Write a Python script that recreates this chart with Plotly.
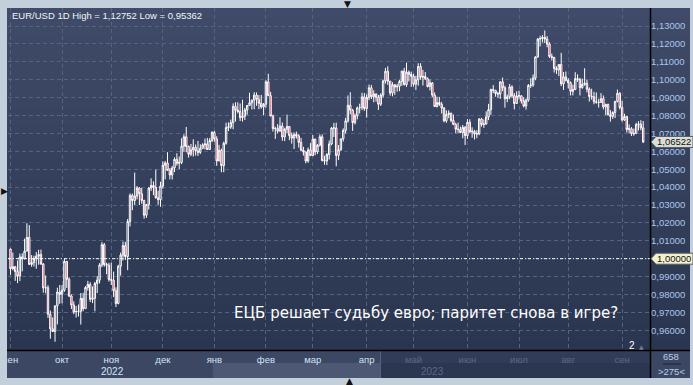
import plotly.graph_objects as go
import pandas as pd

# ---------------- data (EUR/USD daily) ----------------
dates = [d.strftime("%Y-%m-%d") for d in pd.bdate_range("2022-09-01", "2023-09-14")]

opens = [
    # Sep 2022
    1.0054, 0.9944, 0.9955, 0.9928, 0.9903, 1.0010, 0.9999, 1.0042, 1.0119, 0.9968, 0.9978,
    0.9999, 1.0014, 1.0023, 0.9970, 0.9837, 0.9838, 0.9690, 0.9608, 0.9593, 0.9737, 0.9814,
    # Oct
    0.9801, 0.9824, 0.9985, 0.9885, 0.9792, 0.9741, 0.9703, 0.9705, 0.9706, 0.9778, 0.9721,
    0.9839, 0.9856, 0.9773, 0.9779, 0.9862, 0.9880, 0.9965, 1.0078, 0.9967, 0.9964,
    # Nov
    0.9884, 0.9880, 0.9821, 0.9750, 0.9958, 1.0020, 1.0073, 1.0012, 1.0208, 1.0354, 1.0325,
    1.0350, 1.0395, 1.0363, 1.0325, 1.0243, 1.0303, 1.0395, 1.0409, 1.0398, 1.0340, 1.0330,
    # Dec
    1.0406, 1.0522, 1.0535, 1.0493, 1.0468, 1.0507, 1.0555, 1.0533, 1.0538, 1.0629, 1.0681,
    1.0627, 1.0584, 1.0608, 1.0622, 1.0602, 1.0594, 1.0617, 1.0636, 1.0641, 1.0610, 1.0660,
    # Jan 2023
    1.0705, 1.0669, 1.0546, 1.0606, 1.0520, 1.0645, 1.0733, 1.0736, 1.0760, 1.0851, 1.0830,
    1.0822, 1.0788, 1.0796, 1.0831, 1.0856, 1.0871, 1.0886, 1.0914, 1.0891, 1.0868, 1.0848,
    # Feb
    1.0863, 1.0988, 1.0911, 1.0797, 1.0727, 1.0728, 1.0713, 1.0741, 1.0680, 1.0723,
    1.0739, 1.0688, 1.0674, 1.0694, 1.0686, 1.0650, 1.0606, 1.0596, 1.0546, 1.0608,
    # Mar
    1.0576, 1.0668, 1.0597, 1.0634, 1.0681, 1.0548, 1.0546, 1.0582, 1.0641, 1.0730, 1.0730, 1.0577,
    1.0609, 1.0670, 1.0717, 1.0770, 1.0857, 1.0830, 1.0760, 1.0799, 1.0843, 1.0844, 1.0904,
    # Apr
    1.0839, 1.0901, 1.0955, 1.0905, 1.0920, 1.0902, 1.0863, 1.0914, 1.0993, 1.1047,
    1.0992, 1.0926, 1.0972, 1.0959, 1.0963, 1.0990, 1.1048, 1.0973, 1.1042, 1.1030,
    # May
    1.1019, 1.0975, 1.0999, 1.1074, 1.1014, 1.1018, 1.1006, 1.0962, 1.0982, 1.0914, 1.0850, 1.0872,
    1.0862, 1.0842, 1.0770, 1.0806, 1.0812, 1.0772, 1.0750, 1.0724, 1.0722, 1.0705, 1.0734,
    # Jun
    1.0688, 1.0762, 1.0709, 1.0712, 1.0696, 1.0698, 1.0780, 1.0750, 1.0752, 1.0792, 1.0833,
    1.0945, 1.0940, 1.0923, 1.0920, 1.0988, 1.0955, 1.0894, 1.0904, 1.0960, 1.0911, 1.0867,
    # Jul
    1.0909, 1.0910, 1.0881, 1.0853, 1.0886, 1.0968, 1.0970, 1.1009, 1.1127, 1.1227, 1.1230,
    1.1236, 1.1227, 1.1199, 1.1130, 1.1124, 1.1063, 1.1055, 1.1085, 1.0977, 1.1016,
    # Aug
    1.0996, 1.0983, 1.0935, 1.0945, 1.1006, 1.1002, 1.0956, 1.0974, 1.0980, 1.0947, 1.0906, 1.0905,
    1.0877, 1.0873, 1.0873, 1.0894, 1.0848, 1.0862, 1.0804, 1.0795, 1.0817, 1.0879, 1.0924,
    # Sep 2023
    1.0845, 1.0775, 1.0794, 1.0722, 1.0726, 1.0698, 1.0699, 1.0749, 1.0752, 1.0731,
]

highs = [
    1.0056, 1.0034, 0.9960, 0.9990, 1.0029, 1.0030, 1.0112, 1.0198, 1.0188, 1.0020, 1.0017,
    1.0037, 1.0050, 1.0051, 0.9976, 0.9906, 0.9852, 0.9710, 0.9672, 0.9737, 0.9838, 0.9853,
    0.9853, 0.9999, 0.9987, 0.9896, 0.9800, 0.9762, 0.9736, 0.9744, 0.9808, 0.9809, 0.9847,
    0.9876, 0.9869, 0.9845, 0.9871, 0.9903, 0.9975, 1.0093, 1.0088, 0.9978, 0.9977,
    0.9977, 0.9928, 0.9840, 0.9966, 1.0034, 1.0096, 1.0094, 1.0222, 1.0365, 1.0364, 1.0481,
    1.0406, 1.0399, 1.0395, 1.0330, 1.0305, 1.0399, 1.0449, 1.0432, 1.0498, 1.0380, 1.0430,
    1.0544, 1.0546, 1.0595, 1.0507, 1.0518, 1.0566, 1.0589, 1.0571, 1.0673, 1.0695, 1.0736,
    1.0632, 1.0641, 1.0667, 1.0638, 1.0658, 1.0639, 1.0645, 1.0671, 1.0675, 1.0674, 1.0713,
    1.0714, 1.0684, 1.0636, 1.0615, 1.0654, 1.0760, 1.0762, 1.0777, 1.0868, 1.0874, 1.0874,
    1.0867, 1.0888, 1.0843, 1.0859, 1.0927, 1.0888, 1.0930, 1.0929, 1.0914, 1.0915, 1.0870,
    1.0997, 1.1033, 1.0932, 1.0805, 1.0737, 1.0752, 1.0790, 1.0761, 1.0731, 1.0805,
    1.0740, 1.0705, 1.0706, 1.0710, 1.0695, 1.0675, 1.0625, 1.0599, 1.0621, 1.0646,
    1.0691, 1.0670, 1.0640, 1.0694, 1.0695, 1.0575, 1.0590, 1.0660, 1.0736, 1.0759, 1.0760, 1.0635,
    1.0670, 1.0728, 1.0787, 1.0912, 1.0930, 1.0837, 1.0811, 1.0850, 1.0866, 1.0927, 1.0925,
    1.0918, 1.0973, 1.0971, 1.0941, 1.0924, 1.0915, 1.0924, 1.1000, 1.1066, 1.1075,
    1.0993, 1.0986, 1.0975, 1.0977, 1.1000, 1.1050, 1.1066, 1.1095, 1.1051, 1.1045,
    1.1033, 1.1022, 1.1092, 1.1092, 1.1055, 1.1043, 1.1012, 1.1001, 1.0987, 1.0929, 1.0905, 1.0904,
    1.0876, 1.0847, 1.0829, 1.0829, 1.0817, 1.0805, 1.0760, 1.0760, 1.0738, 1.0747, 1.0741,
    1.0780, 1.0779, 1.0734, 1.0720, 1.0718, 1.0786, 1.0787, 1.0778, 1.0823, 1.0865, 1.0950,
    1.0970, 1.0944, 1.0933, 1.0990, 1.1012, 1.0966, 1.0917, 1.0976, 1.0969, 1.0925, 1.0935,
    1.0939, 1.0913, 1.0903, 1.0895, 1.0976, 1.1008, 1.1029, 1.1131, 1.1233, 1.1245, 1.1249,
    1.1275, 1.1244, 1.1209, 1.1146, 1.1128, 1.1075, 1.1085, 1.1150, 1.1043, 1.1046,
    1.1009, 1.0990, 1.0972, 1.1042, 1.1030, 1.1010, 1.1006, 1.1064, 1.1001, 1.0957, 1.0950, 1.0932,
    1.0929, 1.0893, 1.0925, 1.0912, 1.0866, 1.0866, 1.0830, 1.0824, 1.0882, 1.0945, 1.0930,
    1.0882, 1.0810, 1.0797, 1.0750, 1.0735, 1.0727, 1.0760, 1.0768, 1.0774, 1.0769,
]

lows = [
    0.9910, 0.9935, 0.9876, 0.9864, 0.9875, 0.9929, 0.9998, 1.0042, 0.9966, 0.9955, 0.9956,
    0.9944, 0.9966, 0.9966, 0.9810, 0.9807, 0.9669, 0.9553, 0.9592, 0.9536, 0.9633, 0.9748,
    0.9751, 0.9815, 0.9837, 0.9785, 0.9719, 0.9690, 0.9671, 0.9677, 0.9632, 0.9706, 0.9720,
    0.9822, 0.9758, 0.9752, 0.9706, 0.9808, 0.9862, 0.9953, 0.9955, 0.9913, 0.9872,
    0.9853, 0.9786, 0.9730, 0.9745, 0.9906, 0.9990, 0.9993, 0.9936, 1.0180, 1.0271, 1.0300,
    1.0331, 1.0300, 1.0307, 1.0223, 1.0228, 1.0275, 1.0378, 1.0355, 1.0336, 1.0301, 1.0290,
    1.0391, 1.0443, 1.0491, 1.0443, 1.0442, 1.0484, 1.0520, 1.0500, 1.0528, 1.0598, 1.0595,
    1.0565, 1.0573, 1.0571, 1.0576, 1.0574, 1.0585, 1.0612, 1.0610, 1.0608, 1.0608, 1.0651,
    1.0653, 1.0519, 1.0545, 1.0483, 1.0483, 1.0637, 1.0713, 1.0725, 1.0723, 1.0766, 1.0812,
    1.0769, 1.0766, 1.0775, 1.0804, 1.0855, 1.0834, 1.0835, 1.0854, 1.0835, 1.0838, 1.0802,
    1.0844, 1.0910, 1.0796, 1.0710, 1.0669, 1.0700, 1.0709, 1.0659, 1.0657, 1.0700,
    1.0662, 1.0643, 1.0613, 1.0671, 1.0621, 1.0600, 1.0576, 1.0533, 1.0536, 1.0574,
    1.0574, 1.0578, 1.0585, 1.0627, 1.0544, 1.0525, 1.0523, 1.0554, 1.0634, 1.0680, 1.0516, 1.0551,
    1.0602, 1.0655, 1.0700, 1.0760, 1.0806, 1.0714, 1.0750, 1.0779, 1.0812, 1.0830, 1.0826,
    1.0788, 1.0886, 1.0892, 1.0874, 1.0877, 1.0831, 1.0853, 1.0899, 1.0978, 1.0971,
    1.0911, 1.0907, 1.0915, 1.0933, 1.0936, 1.0966, 1.0967, 1.0960, 1.0990, 1.0960,
    1.0962, 1.0942, 1.0967, 1.1000, 1.0968, 1.0998, 1.0957, 1.0940, 1.0901, 1.0849, 1.0845, 1.0853,
    1.0811, 1.0762, 1.0759, 1.0785, 1.0762, 1.0746, 1.0700, 1.0703, 1.0701, 1.0673, 1.0635,
    1.0669, 1.0701, 1.0676, 1.0666, 1.0673, 1.0690, 1.0738, 1.0731, 1.0749, 1.0774, 1.0804,
    1.0925, 1.0905, 1.0897, 1.0893, 1.0936, 1.0844, 1.0874, 1.0891, 1.0898, 1.0834, 1.0866,
    1.0891, 1.0867, 1.0845, 1.0833, 1.0877, 1.0954, 1.0960, 1.0997, 1.1123, 1.1186, 1.1208,
    1.1205, 1.1181, 1.1121, 1.1107, 1.1040, 1.1032, 1.1020, 1.0964, 1.0943, 1.0990,
    1.0951, 1.0912, 1.0912, 1.0942, 1.0988, 1.0912, 1.0949, 1.0966, 1.0929, 1.0878, 1.0888, 1.0863,
    1.0866, 1.0844, 1.0872, 1.0834, 1.0802, 1.0800, 1.0766, 1.0781, 1.0786, 1.0873, 1.0834,
    1.0766, 1.0770, 1.0705, 1.0700, 1.0686, 1.0687, 1.0698, 1.0716, 1.0717, 1.0646,
]

closes = [
    0.9944, 0.9955, 0.9928, 0.9903, 1.0010, 0.9999, 1.0042, 1.0119, 0.9968, 0.9978, 0.9999,
    1.0014, 1.0023, 0.9970, 0.9837, 0.9838, 0.9690, 0.9608, 0.9593, 0.9737, 0.9814, 0.9801,
    0.9824, 0.9985, 0.9885, 0.9792, 0.9741, 0.9703, 0.9705, 0.9706, 0.9778, 0.9721, 0.9839,
    0.9856, 0.9773, 0.9779, 0.9862, 0.9880, 0.9965, 1.0078, 0.9967, 0.9964, 0.9884,
    0.9880, 0.9821, 0.9750, 0.9958, 1.0020, 1.0073, 1.0012, 1.0208, 1.0354, 1.0325, 1.0350,
    1.0395, 1.0363, 1.0325, 1.0243, 1.0303, 1.0395, 1.0409, 1.0398, 1.0340, 1.0330, 1.0406,
    1.0522, 1.0535, 1.0493, 1.0468, 1.0507, 1.0555, 1.0533, 1.0538, 1.0629, 1.0681, 1.0627,
    1.0584, 1.0608, 1.0622, 1.0602, 1.0594, 1.0617, 1.0636, 1.0641, 1.0610, 1.0660, 1.0705,
    1.0669, 1.0546, 1.0606, 1.0520, 1.0645, 1.0733, 1.0736, 1.0760, 1.0851, 1.0830, 1.0822,
    1.0788, 1.0796, 1.0831, 1.0856, 1.0871, 1.0886, 1.0914, 1.0891, 1.0868, 1.0848, 1.0863,
    1.0988, 1.0911, 1.0797, 1.0727, 1.0728, 1.0713, 1.0741, 1.0680, 1.0723, 1.0739,
    1.0688, 1.0674, 1.0694, 1.0686, 1.0650, 1.0606, 1.0596, 1.0546, 1.0608, 1.0576,
    1.0668, 1.0597, 1.0634, 1.0681, 1.0548, 1.0546, 1.0582, 1.0641, 1.0730, 1.0730, 1.0577, 1.0609,
    1.0670, 1.0717, 1.0770, 1.0857, 1.0830, 1.0760, 1.0799, 1.0843, 1.0844, 1.0904, 1.0839,
    1.0901, 1.0955, 1.0905, 1.0920, 1.0902, 1.0863, 1.0914, 1.0993, 1.1047, 1.0992,
    1.0926, 1.0972, 1.0959, 1.0963, 1.0990, 1.1048, 1.0973, 1.1042, 1.1030, 1.1019,
    1.0975, 1.0999, 1.1074, 1.1014, 1.1018, 1.1006, 1.0962, 1.0982, 1.0914, 1.0850, 1.0872, 1.0862,
    1.0842, 1.0770, 1.0806, 1.0812, 1.0772, 1.0750, 1.0724, 1.0722, 1.0705, 1.0734, 1.0688,
    1.0762, 1.0709, 1.0712, 1.0696, 1.0698, 1.0780, 1.0750, 1.0752, 1.0792, 1.0833, 1.0945,
    1.0940, 1.0923, 1.0920, 1.0988, 1.0955, 1.0894, 1.0904, 1.0960, 1.0911, 1.0867, 1.0909,
    1.0910, 1.0881, 1.0853, 1.0886, 1.0968, 1.0970, 1.1009, 1.1127, 1.1227, 1.1230, 1.1236,
    1.1227, 1.1199, 1.1130, 1.1124, 1.1063, 1.1055, 1.1085, 1.0977, 1.1016, 1.0996,
    1.0983, 1.0935, 1.0945, 1.1006, 1.1002, 1.0956, 1.0974, 1.0980, 1.0947, 1.0906, 1.0905, 1.0877,
    1.0873, 1.0873, 1.0894, 1.0848, 1.0862, 1.0804, 1.0795, 1.0817, 1.0879, 1.0924, 1.0845,
    1.0775, 1.0794, 1.0722, 1.0726, 1.0698, 1.0699, 1.0749, 1.0752, 1.0731, 1.06522,
]

month_names = ["сен", "окт", "ноя", "дек", "янв", "фев", "мар", "апр",
               "май", "июн", "июл", "авг", "сен"]
y_ticks = [0.96, 0.97, 0.98, 0.99, 1.00, 1.01, 1.02, 1.03, 1.04,
           1.05, 1.06, 1.07, 1.08, 1.09, 1.10, 1.11, 1.12, 1.13]
parity_level = 1.0
title_text = "EUR/USD 1D High = 1,12752 Low = 0,95362"
headline = "ЕЦБ решает судьбу евро; паритет снова в игре?"
# ---------------------------------------------------------------------------

W, H = 693, 385
L, R, T, B = 8, 43, 8, 35
PW, PH = W - L - R, H - T - B
FONT = "Liberation Sans, Arial, sans-serif"


def px(x):
    return (x - L) / PW


def py(y):
    return (H - B - y) / PH


# month start ticks
month_starts = []
seen = set()
for d in dates:
    key = d[:7]
    if key not in seen:
        seen.add(key)
        month_starts.append(d)
dim_from = 8
tick_text = [m if i < dim_from else f'<span style="color:#5b6884">{m}</span>'
             for i, m in enumerate(month_names)]
# the parity tick label is shown in its own price tag instead
y_text = ["" if abs(v - parity_level) < 1e-9 else f"{v:.5f}".replace(".", ",") for v in y_ticks]

fig = go.Figure()
fig.add_trace(go.Candlestick(
    x=dates, open=opens, high=highs, low=lows, close=closes,
    increasing=dict(line=dict(color="#ffffff", width=1), fillcolor="rgba(0,0,0,0)"),
    decreasing=dict(line=dict(color="#ffffff", width=1), fillcolor="#e3143c"),
    whiskerwidth=0, showlegend=False, hoverinfo="skip",
))

shapes = []
# gradient background (plot + right axis area)
top = (63, 75, 104)
bot = (42, 53, 79)
n = 38
for k in range(n):
    y0 = 8 + k * (342 / n)
    y1 = 8 + (k + 1) * (342 / n)
    t = (k + 0.5) / n
    c = tuple(int(round(top[j] + (bot[j] - top[j]) * t)) for j in range(3))
    shapes.append(dict(type="rect", xref="paper", yref="paper",
                       x0=px(7), x1=px(690), y0=py(y1 + 0.5), y1=py(y0),
                       fillcolor="rgb(%d,%d,%d)" % c, line=dict(width=0), layer="below"))
# x-axis band
shapes += [
    dict(type="rect", xref="paper", yref="paper", x0=px(7), x1=px(380), y0=py(378), y1=py(350),
         fillcolor="#3c4863", line=dict(width=0), layer="below"),
    dict(type="rect", xref="paper", yref="paper", x0=px(213), x1=px(380), y0=py(378), y1=py(363),
         fillcolor="#4d5974", line=dict(width=0), layer="below"),
    dict(type="rect", xref="paper", yref="paper", x0=px(380), x1=px(650), y0=py(378), y1=py(350),
         fillcolor="#313d58", line=dict(width=0), layer="below"),
    dict(type="rect", xref="paper", yref="paper", x0=px(380), x1=px(650), y0=py(378), y1=py(363),
         fillcolor="#2b3651", line=dict(width=0), layer="below"),
    dict(type="line", xref="paper", yref="paper", x0=px(380.5), x1=px(380.5), y0=py(378), y1=py(351),
         line=dict(color="#56627d", width=1), layer="below"),
    dict(type="rect", xref="paper", yref="paper", x0=px(651), x1=px(690), y0=py(378), y1=py(350),
         fillcolor="#3c4863", line=dict(width=0), layer="below"),
]
# left frame strip covering cut-off label
shapes.append(dict(type="rect", xref="paper", yref="paper", x0=px(0), x1=px(7), y0=py(385), y1=py(0),
                   fillcolor="#c4cfdc", line=dict(width=0), layer="above"))
# parity line
shapes.append(dict(type="line", xref="paper", yref="y", x0=0, x1=1, y0=parity_level, y1=parity_level,
                   line=dict(color="#ffffff", width=1, dash="3px,2px,1px,2px"), layer="above"))
# black separators
shapes += [
    dict(type="line", xref="paper", yref="paper", x0=px(650.5), x1=px(650.5), y0=py(378), y1=py(8),
         line=dict(color="#000000", width=1.5), layer="above"),
    dict(type="line", xref="paper", yref="paper", x0=px(7), x1=px(690), y0=py(350.5), y1=py(350.5),
         line=dict(color="#000000", width=1.5), layer="above"),
    dict(type="line", xref="paper", yref="paper", x0=px(663), x1=px(681), y0=py(364), y1=py(364),
         line=dict(color="#1d2535", width=1), layer="above"),
]

# price tags
def tag(value, fill):
    h = 5.5 / 1790
    xt, xl, xr = px(651), px(656), px(693)
    path = (f"M {xt},{value} L {xl},{value + h} L {xr},{value + h} "
            f"L {xr},{value - h} L {xl},{value - h} Z")
    return dict(type="path", xref="paper", yref="y", path=path, fillcolor=fill,
                line=dict(color="#5a5f66", width=1), layer="above")


last_close = closes[-1]
shapes.append(tag(last_close, "#dcdfd8"))
shapes.append(tag(parity_level, "#f3f1cf"))

ann = [
    dict(x=px(10), y=py(15), xref="paper", yref="paper", text=title_text, showarrow=False,
         xanchor="left", yanchor="middle", font=dict(family=FONT, size=9.5, color="#f2f4f8")),
    dict(x=px(426), y=py(313), xref="paper", yref="paper", text=headline, showarrow=False,
         xanchor="center", yanchor="middle", font=dict(family="DejaVu Sans", size=15, color="#ffffff")),
    dict(x=px(632), y=py(345), xref="paper", yref="paper", text="2", showarrow=False,
         xanchor="center", yanchor="middle", font=dict(family=FONT, size=10, color="#ffffff")),
    dict(x=px(641), y=py(346), xref="paper", yref="paper", text="▲", showarrow=False,
         xanchor="center", yanchor="middle", font=dict(family="DejaVu Sans", size=6, color="#6f7b96")),
    dict(x=px(671), y=py(357), xref="paper", yref="paper", text="658", showarrow=False,
         xanchor="center", yanchor="middle", font=dict(family=FONT, size=9.5, color="#b7cdee")),
    dict(x=px(671), y=py(371), xref="paper", yref="paper", text="&gt;275&lt;", showarrow=False,
         xanchor="center", yanchor="middle", font=dict(family=FONT, size=9.5, color="#b7cdee")),
    dict(x=px(112), y=py(371), xref="paper", yref="paper", text="2022", showarrow=False,
         xanchor="center", yanchor="middle", font=dict(family=FONT, size=10, color="#d6e4f7")),
    dict(x=px(432), y=py(371), xref="paper", yref="paper", text="2023", showarrow=False,
         xanchor="center", yanchor="middle", font=dict(family=FONT, size=10, color="#5b6884")),
    dict(x=px(674), y=last_close, xref="paper", yref="y", text=f"{last_close:.5f}".replace(".", ","),
         showarrow=False, xanchor="center", yanchor="middle",
         font=dict(family=FONT, size=9.5, color="#111111")),
    dict(x=px(674), y=parity_level, xref="paper", yref="y", text=f"{parity_level:.5f}".replace(".", ","),
         showarrow=False, xanchor="center", yanchor="middle",
         font=dict(family=FONT, size=9.5, color="#111111")),
    dict(x=px(4), y=py(191), xref="paper", yref="paper", text="▶", showarrow=False,
         xanchor="center", yanchor="middle", font=dict(family="DejaVu Sans", size=9, color="#111111")),
    dict(x=px(348), y=py(4), xref="paper", yref="paper", text="▼", showarrow=False,
         xanchor="center", yanchor="middle", font=dict(family="DejaVu Sans", size=9, color="#111111")),
    dict(x=px(349), y=py(381), xref="paper", yref="paper", text="▲", showarrow=False,
         xanchor="center", yanchor="middle", font=dict(family="DejaVu Sans", size=9, color="#111111")),
]

fig.update_layout(
    width=W, height=H,
    margin=dict(l=L, r=R, t=T, b=B, pad=0),
    paper_bgcolor="#c4cfdc",
    plot_bgcolor="rgba(0,0,0,0)",
    shapes=shapes,
    annotations=ann,
    boxgap=0.15,
    showlegend=False,
    xaxis=dict(
        type="category", range=[-1.07, 272.9], rangeslider=dict(visible=False),
        tickmode="array", tickvals=month_starts, ticktext=tick_text,
        showgrid=True, gridcolor="#56637f", griddash="4px,3px", gridwidth=1,
        showline=False, zeroline=False, ticks="", automargin=False, ticklabelstandoff=2,
        tickfont=dict(family=FONT, size=9.5, color="#d6e4f7"),
    ),
    yaxis=dict(
        side="right", range=[0.94899, 1.14006], automargin=False,
        tickmode="array", tickvals=y_ticks, ticktext=y_text,
        showgrid=True, gridcolor="#56637f", griddash="4px,3px", gridwidth=1,
        showline=False, zeroline=False, ticks="",
        tickfont=dict(family=FONT, size=9.5, color="#aac6ee"),
    ),
)

fig.write_html("out.html", config={"displayModeBar": False},
               post_script="document.body.style.margin='0';document.body.style.overflow='hidden';")
